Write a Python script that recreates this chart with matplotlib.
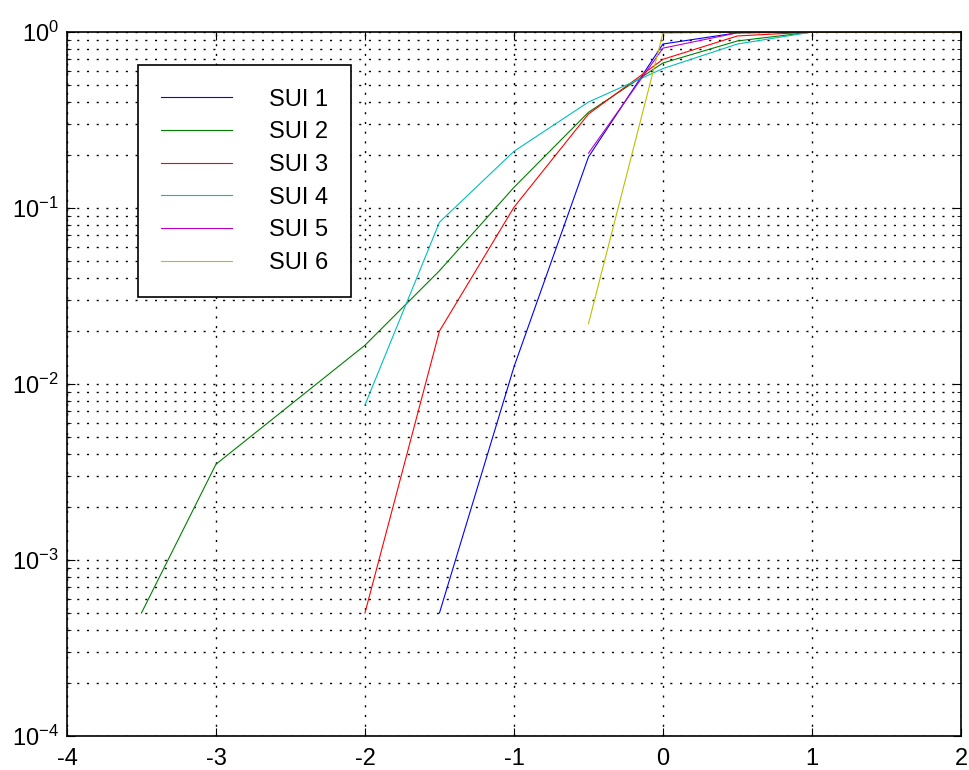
import matplotlib
matplotlib.use("Agg")
import matplotlib.pyplot as plt
from matplotlib.ticker import LogLocator, NullFormatter

plt.rcParams['font.family'] = ['Liberation Sans', 'DejaVu Sans']
plt.rcParams['mathtext.fontset'] = 'custom'
plt.rcParams['mathtext.rm'] = 'Liberation Sans'
plt.rcParams['mathtext.it'] = 'Liberation Sans'
plt.rcParams['mathtext.default'] = 'regular'
plt.rcParams['axes.unicode_minus'] = False

# data
sui1_x = [-1.5, -1.0, -0.5, 0.0, 0.5, 1.0, 2.0]
sui1_y = [5e-4, 0.0125, 0.195, 0.855, 0.99, 1.0, 1.0]

sui2_x = [-3.5, -3.0, -2.0, -1.5, -1.0, -0.5, 0.0, 0.5, 1.0, 2.0]
sui2_y = [5e-4, 0.0035, 0.0166, 0.044, 0.131, 0.35, 0.667, 0.89, 1.0, 1.0]

sui3_x = [-2.0, -1.5, -1.0, -0.5, 0.0, 0.5, 1.0, 2.0]
sui3_y = [5e-4, 0.020, 0.101, 0.342, 0.70, 0.95, 1.0, 1.0]

sui4_x = [-2.0, -1.5, -1.0, -0.5, 0.0, 0.5, 1.0, 2.0]
sui4_y = [0.0076, 0.083, 0.21, 0.40, 0.62, 0.855, 1.0, 1.0]

sui5_x = [-0.5, 0.0, 0.5, 1.0, 2.0]
sui5_y = [0.205, 0.81, 0.99, 1.0, 1.0]

sui6_x = [-0.5, 0.0, 0.5, 1.0, 2.0]
sui6_y = [0.022, 0.985, 1.0, 1.0, 1.0]

series = [
    ("SUI 1", sui1_x, sui1_y, 'b'),
    ("SUI 2", sui2_x, sui2_y, 'g'),
    ("SUI 3", sui3_x, sui3_y, 'r'),
    ("SUI 4", sui4_x, sui4_y, 'c'),
    ("SUI 5", sui5_x, sui5_y, 'm'),
    ("SUI 6", sui6_x, sui6_y, 'y'),
]

fig = plt.figure(figsize=(9.69, 7.70), dpi=100)
ax = fig.add_axes([0.0691, 0.0442, 0.9226, 0.9142])

for name, xs, ys, col in series:
    ax.semilogy(xs, ys, color=col, linewidth=0.8, label=name)

ax.set_xlim(-4, 2)
ax.set_ylim(1e-4, 1)
ax.set_xticks(range(-4, 3))
ax.yaxis.set_major_locator(LogLocator(base=10, numticks=10))
ax.yaxis.set_minor_locator(LogLocator(base=10, subs=range(2, 10), numticks=10))
ax.yaxis.set_minor_formatter(NullFormatter())

# sparse matlab-style dotted grid
ax.grid(True, which='major', color='black', linestyle=(0, (1.5, 5.5)), linewidth=1.0)
ax.grid(True, which='minor', axis='y', color='black', linestyle=(0, (1.5, 5.5)), linewidth=1.0)

ax.tick_params(which='both', direction='in', top=True, right=True, labelsize=17)
ax.tick_params(which='major', length=6)
ax.tick_params(which='minor', length=3)
ax.tick_params(axis='x', pad=9)
ax.tick_params(axis='y', pad=6)
for s in ax.spines.values():
    s.set_linewidth(1.2)

leg = ax.legend(loc='upper left', bbox_to_anchor=(0.079, 0.953), borderaxespad=0,
                fontsize=17, handlelength=3.0, handletextpad=1.55,
                labelspacing=0.45, fancybox=False, framealpha=1,
                edgecolor='black', borderpad=1.0)
leg.get_frame().set_linewidth(1.2)

fig.savefig("out.png", dpi=100)
